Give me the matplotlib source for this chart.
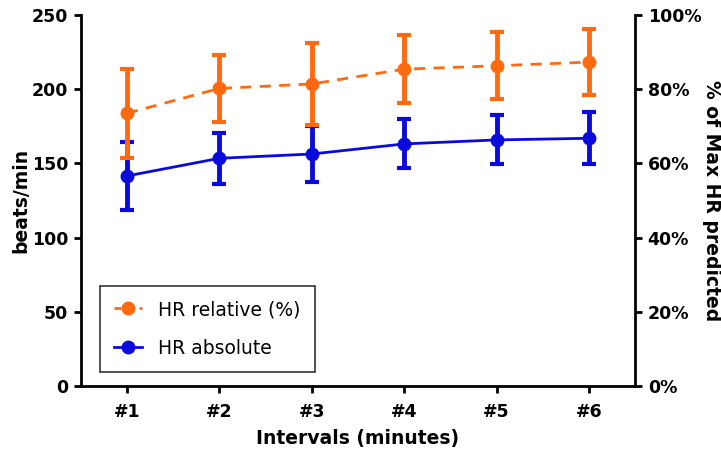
import matplotlib
matplotlib.use("Agg")
import matplotlib.pyplot as plt
from matplotlib.lines import Line2D
from matplotlib.ticker import PercentFormatter

plt.rcParams['font.family'] = ['DejaVu Sans']

intervals = ["#1", "#2", "#3", "#4", "#5", "#6"]
hr_relative = [73.5, 80.2, 81.4, 85.4, 86.3, 87.3]     # % of max HR predicted
hr_relative_err = [12.0, 9.1, 11.1, 9.1, 9.0, 9.0]
hr_absolute = [141.5, 153.4, 156.3, 163.1, 165.8, 166.9]  # beats/min
hr_absolute_err = [23.0, 17.0, 19.0, 16.5, 16.5, 17.5]

orange = "#FF6A10"
blue = "#0A0ADC"

fig = plt.figure(figsize=(7.21, 4.54), dpi=100)
ax = fig.add_axes([0.112, 0.150, 0.769, 0.817])
ax2 = ax.twinx()

x = list(range(1, len(intervals) + 1))

ax.errorbar(x, hr_absolute, yerr=hr_absolute_err, color=blue, lw=2,
            marker="o", ms=9, elinewidth=3.5, capsize=5, capthick=3, zorder=3)
ax2.errorbar(x, hr_relative, yerr=hr_relative_err, color=orange, lw=2,
             ls=(0, (4, 3)), marker="o", ms=9, elinewidth=3.5, capsize=5,
             capthick=3, zorder=3)

ax.set_xlim(0.5, 6.5)
ax.set_ylim(0, 250)
ax2.set_ylim(0, 100)
ax.set_xticks(x)
ax.set_xticklabels(intervals)
ax.set_yticks([0, 50, 100, 150, 200, 250])
ax2.set_yticks([0, 20, 40, 60, 80, 100])
ax2.yaxis.set_major_formatter(PercentFormatter(decimals=0))

for a in (ax, ax2):
    a.spines["top"].set_visible(False)
    for s in ("left", "right", "bottom"):
        a.spines[s].set_linewidth(2)
    a.tick_params(width=2, length=5, labelsize=12.5, pad=4)
    for lab in a.get_xticklabels() + a.get_yticklabels():
        lab.set_fontweight("bold")
ax.tick_params(axis="x", pad=7)
ax.spines["right"].set_visible(False)
ax2.spines["left"].set_visible(False)
ax2.spines["bottom"].set_visible(False)

ax.set_xlabel("Intervals (minutes)", fontsize=13.5, fontweight="bold", labelpad=6)
ax.set_ylabel("beats/min", fontsize=13.5, fontweight="bold", labelpad=1)
ax2.set_ylabel("% of Max HR predicted", fontsize=13.5, fontweight="bold",
               rotation=270, labelpad=14)

handles = [
    Line2D([], [], color=orange, lw=2, ls=(0, (2.5, 2)), marker="o", ms=9),
    Line2D([], [], color=blue, lw=2, marker="o", ms=9),
]
leg = ax.legend(handles, ["HR relative (%)", "HR absolute"], loc="lower left",
                bbox_to_anchor=(0.035, 0.038), borderaxespad=0, fontsize=13.5,
                fancybox=False, edgecolor="#333333", framealpha=1,
                handlelength=1.5, borderpad=0.75, labelspacing=1.05,
                handletextpad=0.85)
leg.get_frame().set_linewidth(1.2)

fig.savefig("out.png", dpi=100)
